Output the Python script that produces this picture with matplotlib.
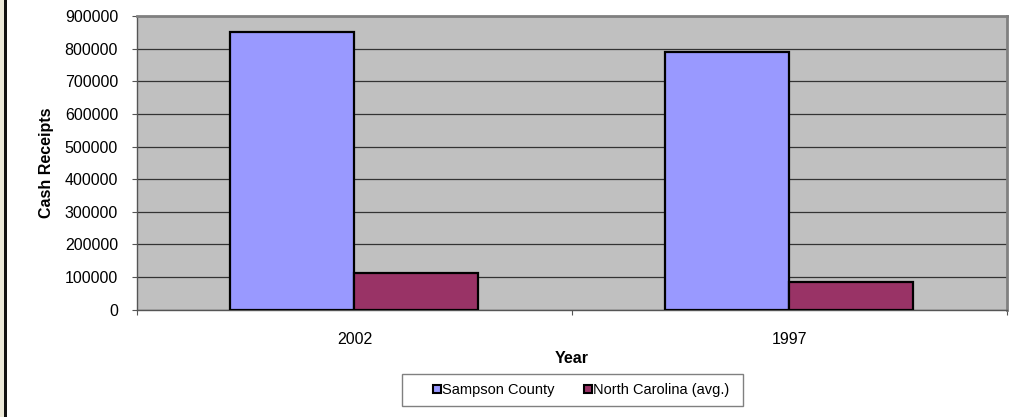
import matplotlib
matplotlib.use("Agg")
import matplotlib.pyplot as plt
from matplotlib.lines import Line2D
from matplotlib.patches import Rectangle
import numpy as np

categories = ["2002", "1997"]
series_names = ["Sampson County", "North Carolina (avg.)"]
sampson = [851000, 791000]
nc_avg = [111500, 84000]
yticks = [0, 100000, 200000, 300000, 400000, 500000, 600000, 700000, 800000, 900000]
colors = ["#9999FF", "#993366"]

plt.rcParams['font.family'] = ['Liberation Sans', 'DejaVu Sans']
FS = 11.5

fig = plt.figure(figsize=(10.25, 4.17), dpi=100)
fig.patch.set_facecolor("white")
# left frame strip
fig.patches.append(Rectangle((0, 0), 4/1025, 1, transform=fig.transFigure, facecolor="#ECE9D8", edgecolor="none"))
fig.patches.append(Rectangle((4/1025, 0), 3/1025, 1, transform=fig.transFigure, facecolor="#111111", edgecolor="none"))

ax = fig.add_axes([137/1025, 1 - 309.7/417, (1006.7-137)/1025, (309.7-16)/417])
ax.set_facecolor("#C0C0C0")

x = np.arange(len(categories))
w = 0.285
ax.bar(x - w, sampson, width=w, align='edge', color=colors[0], edgecolor="black", linewidth=1.6, zorder=3)
ax.bar(x, nc_avg, width=w, align='edge', color=colors[1], edgecolor="black", linewidth=1.6, zorder=3)

ax.set_xlim(-0.5, len(categories) - 0.5)
ax.set_ylim(0, 900000)
ax.set_yticks(yticks)
ax.set_yticklabels([str(v) for v in yticks], fontsize=FS)
ax.yaxis.grid(True, color="#333333", linewidth=0.9, zorder=1)
ax.set_axisbelow(True)

ax.set_xticks(np.arange(-0.5, len(categories), 1.0))
ax.set_xticklabels([])
ax.set_xticks(x, minor=True)
ax.set_xticklabels(categories, minor=True, fontsize=FS)
ax.tick_params(axis='x', which='minor', length=0, pad=16)
ax.tick_params(axis='x', which='major', length=3.6, color="#555555", direction='out')
ax.tick_params(axis='y', length=3.6, color="#555555", direction='out', pad=10)

for s in ["top", "right"]:
    ax.spines[s].set_color("#808080")
    ax.spines[s].set_linewidth(2)
for s in ["left", "bottom"]:
    ax.spines[s].set_color("#555555")
    ax.spines[s].set_linewidth(1)

ax.set_ylabel("Cash Receipts", fontsize=FS, fontweight='bold', labelpad=8)
ax.set_xlabel("Year", fontsize=FS, fontweight='bold', labelpad=3)

# legend box
fig.patches.append(Rectangle((402/1025, 1 - 406/417), (743-402)/1025, 32/417, transform=fig.transFigure,
                             facecolor="white", edgecolor="#808080", linewidth=1))
handles = [Line2D([], [], linestyle='none', marker='s', markersize=6,
                  markerfacecolor=c, markeredgecolor='black', markeredgewidth=1.5) for c in colors]
leg = fig.legend(handles, series_names, loc='center', bbox_to_anchor=(581/1025, 1 - 390/417),
                 ncol=2, fontsize=10.5, frameon=False,
                 handlelength=0.6, handletextpad=0.05, columnspacing=2.0, borderpad=0.3)

fig.savefig("out.png", dpi=100)
